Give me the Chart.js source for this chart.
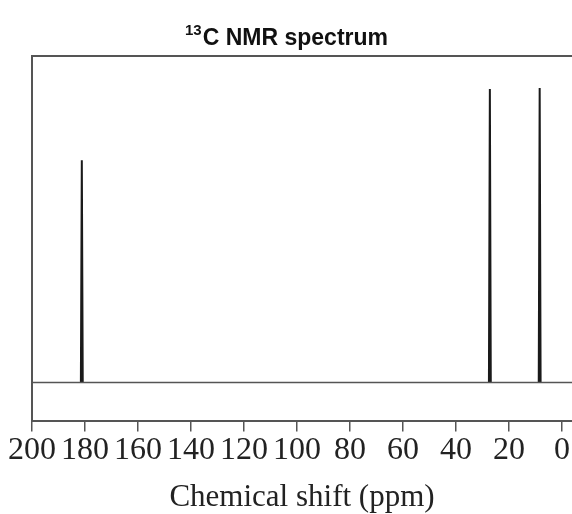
<!DOCTYPE html>
<html>
<head>
<meta charset="utf-8">
<script src="https://cdn.jsdelivr.net/npm/chart.js@4"></script>
<style>
  body { margin: 0; background: #fff; }
  canvas { display: block; }
</style>
</head>
<body>
<canvas id="c" width="572" height="514"></canvas>
<script>
// peak positions (ppm) and relative heights
const peakShifts = [181.2, 27.2, 8.4]
const peakHeights = [0.755, 0.997, 1.0]
const tickValues = [200, 180, 160, 140, 120, 100, 80, 60, 40, 20, 0]
const xRange = [200, -3.8]

const halfWidth = 0.35

// stick peaks, separated by nulls so each one is its own stroke
let peakPoints = []
peakShifts.forEach((s, i) => {
    peakPoints.push({x: s + halfWidth, y: 0})
    peakPoints.push({x: s, y: peakHeights[i]})
    peakPoints.push({x: s - halfWidth, y: 0})
    peakPoints.push({x: s, y: null})
})

const baseline = [{x: xRange[0], y: 0}, {x: xRange[1], y: 0}]

const frame = {
    id: 'frame',
    afterDraw(chart) {
        const {ctx, chartArea} = chart
        ctx.save()
        ctx.strokeStyle = '#555'
        ctx.lineWidth = 2
        ctx.beginPath()
        ctx.moveTo(chartArea.left, chartArea.bottom)
        ctx.lineTo(chartArea.left, chartArea.top)
        ctx.lineTo(chartArea.right, chartArea.top)
        ctx.stroke()

        // title with superscript 13
        const big = 'bold 23px "Liberation Sans", Arial, sans-serif'
        const small = 'bold 15px "Liberation Sans", Arial, sans-serif'
        ctx.fillStyle = '#111'
        ctx.textBaseline = 'alphabetic'
        ctx.font = small
        const w1 = ctx.measureText('13').width
        ctx.font = big
        const w2 = ctx.measureText('C NMR spectrum').width
        const x0 = chart.width / 2 - (w1 + w2) / 2
        const base = 45
        ctx.font = small
        ctx.fillText('13', x0, base - 10)
        ctx.font = big
        ctx.fillText('C NMR spectrum', x0 + w1 + 1, base)
        ctx.restore()
    }
}

new Chart(document.getElementById('c'), {
    type: 'line',
    data: {
        datasets: [
            {
                data: baseline,
                borderColor: '#555',
                borderWidth: 1.5,
                pointRadius: 0
            },
            {
                data: peakPoints,
                borderColor: '#1a1a1a',
                borderWidth: 2,
                pointRadius: 0,
                spanGaps: false
            }
        ]
    },
    options: {
        responsive: false,
        animation: false,
        layout: {padding: {top: 56, left: 32, right: 0, bottom: 1}},
        plugins: {
            legend: {display: false},
            tooltip: {enabled: false}
        },
        scales: {
            x: {
                type: 'linear',
                reverse: true,
                min: xRange[1],
                max: xRange[0],
                afterBuildTicks: (scale) => {
                    scale.ticks = tickValues.map(v => ({value: v}))
                },
                grid: {
                    display: true,
                    drawOnChartArea: false,
                    drawTicks: true,
                    tickLength: 11,
                    color: '#555',
                    lineWidth: 1.5
                },
                border: {display: true, color: '#555', width: 2},
                ticks: {
                    autoSkip: false,
                    maxRotation: 0,
                    padding: 0,
                    color: '#222',
                    font: {family: '"Liberation Serif", "Times New Roman", serif', size: 32, lineHeight: 1.2}
                },
                title: {
                    display: true,
                    text: 'Chemical shift (ppm)',
                    color: '#222',
                    padding: {top: 12, bottom: 0},
                    font: {family: '"Liberation Serif", "Times New Roman", serif', size: 31, lineHeight: 1.0}
                }
            },
            y: {
                display: false,
                min: -0.129,
                max: 1.109
            }
        }
    },
    plugins: [frame]
})
</script>
</body>
</html>
